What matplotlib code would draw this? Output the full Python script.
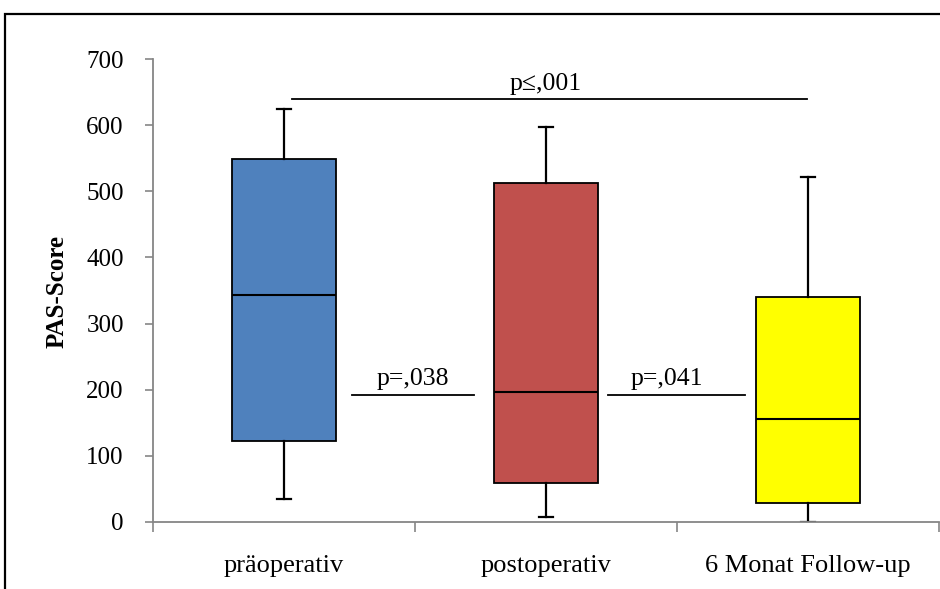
import matplotlib
matplotlib.use("Agg")
import matplotlib.pyplot as plt
from matplotlib.patches import Rectangle

# PAS-Score box plot
categories = ["präoperativ", "postoperativ", "6 Monat Follow-up"]
whisker_low = [35, 7, 0]
q1 = [122, 59, 29]
median = [343, 197, 156]
q3 = [549, 512, 340]
whisker_high = [624, 597, 522]
box_colors = ["#4F81BD", "#C0504D", "#FFFF00"]

yticks = [0, 100, 200, 300, 400, 500, 600, 700]

plt.rcParams["font.family"] = ["Liberation Serif", "DejaVu Serif"]

fig = plt.figure(figsize=(9.4, 5.89), dpi=100)
ax = fig.add_axes([153 / 940, 1 - 522 / 589, 786 / 940, 463 / 589])

stats = []
for i in range(len(categories)):
    stats.append({"whislo": whisker_low[i], "q1": q1[i], "med": median[i],
                  "q3": q3[i], "whishi": whisker_high[i], "label": categories[i]})

bp = ax.bxp(stats, positions=[1, 2, 3], widths=0.4, patch_artist=True,
            showfliers=False, capwidths=0.05,
            boxprops=dict(edgecolor="black", linewidth=1.3),
            medianprops=dict(color="black", linewidth=1.5),
            whiskerprops=dict(color="black", linewidth=1.6),
            capprops=dict(color="black", linewidth=1.6))
for patch, c in zip(bp["boxes"], box_colors):
    patch.set_facecolor(c)

ax.set_xlim(0.5, 3.5)
ax.set_ylim(0, 700)
ax.set_yticks(yticks)
ax.set_xticks([1, 2, 3])
ax.set_xticklabels(categories, fontsize=19)
ax.set_xticks([0.5, 1.5, 2.5, 3.5], minor=True)
ax.tick_params(axis="x", which="major", length=0, pad=24)
ax.tick_params(axis="x", which="minor", length=7, width=1.2, color="#868686")
ax.tick_params(axis="y", length=6, width=1.2, color="#868686", pad=15, labelsize=18)

for side in ["top", "right"]:
    ax.spines[side].set_visible(False)
for side in ["left", "bottom"]:
    ax.spines[side].set_color("#868686")
    ax.spines[side].set_linewidth(1.3)
    ax.spines[side].set_zorder(10)

fig.text(57 / 940, 1 - 292 / 589, "PAS-Score", rotation=90, ha="center",
         va="center", fontsize=18, fontweight="bold")

# significance brackets
ax.plot([1.03, 2.996], [639, 639], color="black", lw=1.3, clip_on=False)
ax.text(2.0, 645, "p≤,001", ha="center", va="bottom", fontsize=18.5,
        family=["Liberation Serif", "DejaVu Serif"])
ax.plot([1.26, 1.725], [192, 192], color="black", lw=1.3)
ax.text(1.49, 199, "p=,038", ha="center", va="bottom", fontsize=18.5)
ax.plot([2.237, 2.76], [192, 192], color="black", lw=1.3)
ax.text(2.46, 199, "p=,041", ha="center", va="bottom", fontsize=18.5)

# outer frame
fig.patches.append(Rectangle((5 / 940, -0.5), 2.0, 0.5 + 1 - 14 / 589,
                             transform=fig.transFigure, fill=False,
                             edgecolor="black", linewidth=1.6))

fig.savefig("out.png", dpi=100)
